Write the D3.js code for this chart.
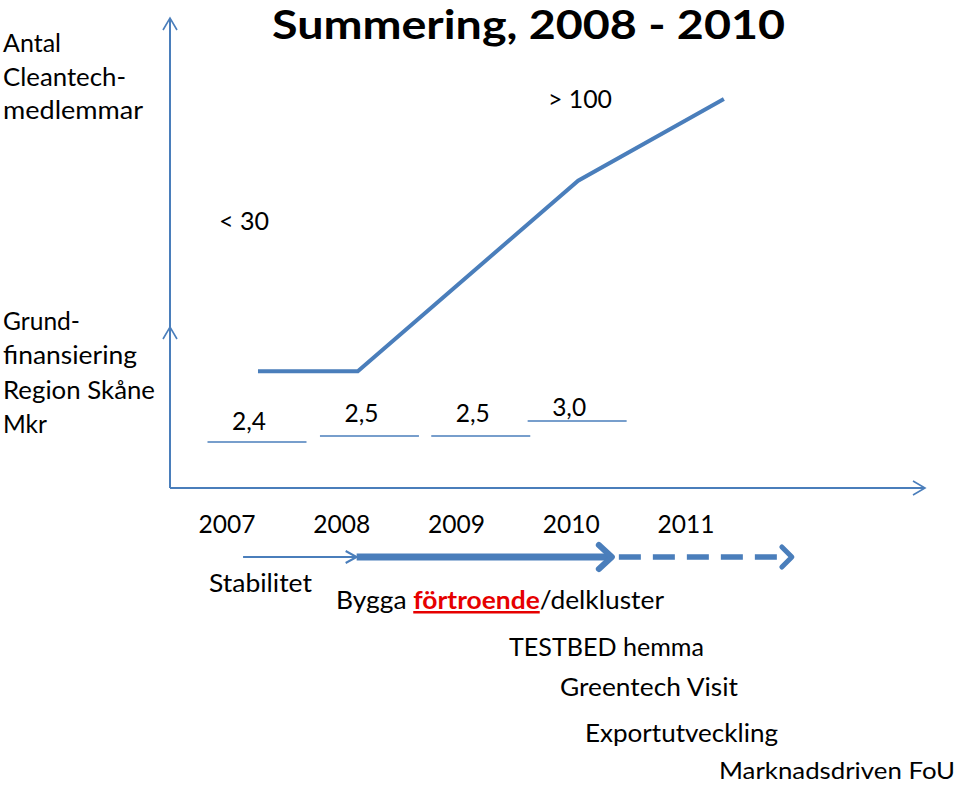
<!DOCTYPE html>
<html><head><meta charset="utf-8">
<script src="https://cdn.jsdelivr.net/npm/d3@7"></script>
<style>
html,body{margin:0;padding:0;background:#fff;}
svg{display:block;}
text{font-family:Lato,"Open Sans",sans-serif;fill:#000;}
</style></head>
<body>
<script>
// ---- data ----
const title = "Summering, 2008 - 2010";
const years = [2007, 2008, 2009, 2010, 2011];
const memberYears = [2007.27, 2008.14, 2010.06, 2011.33];
const memberValues = [30, 30, 79, 100];
const memberLabels = ["< 30", "> 100"];
const fundingYears = [2006.83, 2007.81, 2008.78, 2009.62];
const fundingValues = [2.4, 2.5, 2.5, 3.0];
const fundingLabels = ["2,4", "2,5", "2,5", "3,0"];
const phaseYears = [2007.14, 2008.13, 2010.38, 2011.94];
const activities = ["Stabilitet", "Bygga förtroende/delkluster", "TESTBED hemma", "Greentech Visit", "Exportutveckling", "Marknadsdriven FoU"];
const axisLabel1 = ["Antal", "Cleantech-", "medlemmar"];
const axisLabel2 = ["Grund-", "finansiering", "Region Skåne", "Mkr"];

// ---- layout ----
const W = 960, H = 786;
const blue = "#4a7ebb";
const svg = d3.select("body").append("svg").attr("width", W).attr("height", H);

const x = d3.scaleLinear().domain([2007, 2011]).range([227, 686]);
const y = d3.scaleLinear().domain([0, 100]).range([488, 99]);
const fy = d3.scaleLinear().domain([2.4, 2.5, 3.0]).range([442, 436, 421]);

const axX = 170, axBottom = 488, axTop = 18, axRight = 925;

function fitText(sel, len) {
  sel.attr("textLength", len).attr("lengthAdjust", "spacingAndGlyphs");
}

// axes
svg.append("line").attr("x1", axX).attr("x2", axX).attr("y1", axTop).attr("y2", axBottom)
  .attr("stroke", blue).attr("stroke-width", 2);
svg.append("line").attr("x1", axX).attr("x2", axRight).attr("y1", axBottom).attr("y2", axBottom)
  .attr("stroke", blue).attr("stroke-width", 2);
function chevUp(cx, cy) {
  svg.append("path").attr("d", `M${cx-7},${cy+12}L${cx},${cy}L${cx+7},${cy+12}`)
    .attr("fill", "none").attr("stroke", blue).attr("stroke-width", 1.6);
}
chevUp(axX, axTop);
chevUp(axX, 327);
svg.append("path").attr("d", `M${axRight-12},${axBottom-7}L${axRight},${axBottom}L${axRight-12},${axBottom+7}`)
  .attr("fill", "none").attr("stroke", blue).attr("stroke-width", 1.6);

// title
fitText(svg.append("text").attr("x", 272).attr("y", 39).attr("font-size", 40).attr("font-weight", "bold").text(title), 513);

// left labels
const l1w = [58, 123, 140];
axisLabel1.forEach((t, i) => fitText(svg.append("text").attr("x", 3).attr("y", 52 + i * 33.5).attr("font-size", 25).text(t), l1w[i]));
const l2w = [77, 134, 152, 44];
axisLabel2.forEach((t, i) => fitText(svg.append("text").attr("x", 3).attr("y", 330 + i * 34.3).attr("font-size", 25).text(t), l2w[i]));

// members line
svg.append("path")
  .datum(memberYears.map((d, i) => [d, memberValues[i]]))
  .attr("d", d3.line().x(d => x(d[0])).y(d => y(d[1])))
  .attr("fill", "none").attr("stroke", blue).attr("stroke-width", 4);

fitText(svg.append("text").attr("x", 219).attr("y", 230).attr("font-size", 25).text(memberLabels[0]), 50);
fitText(svg.append("text").attr("x", 548).attr("y", 108).attr("font-size", 25).text(memberLabels[1]), 64);

// funding
const segW = 99;
const labelOff = [-12, -14, -14, -5];
fundingYears.forEach((yr, i) => {
  const x0 = x(yr);
  svg.append("line").attr("x1", x0).attr("x2", x0 + segW)
    .attr("y1", fy(fundingValues[i])).attr("y2", fy(fundingValues[i]))
    .attr("stroke", blue).attr("stroke-width", 1.5);
  fitText(svg.append("text").attr("x", x0 + segW / 2 - 8).attr("y", fy(fundingValues[i]) + labelOff[i])
    .attr("text-anchor", "middle").attr("font-size", 25).text(fundingLabels[i]), 34);
});

// year labels
years.forEach(yr => fitText(svg.append("text").attr("x", x(yr)).attr("y", 533)
  .attr("text-anchor", "middle").attr("font-size", 25).text(yr), 57));

// timeline arrows
const ay = 557;
svg.append("line").attr("x1", x(phaseYears[0])).attr("x2", x(phaseYears[1])).attr("y1", ay).attr("y2", ay)
  .attr("stroke", blue).attr("stroke-width", 2);
svg.append("path").attr("d", `M${x(phaseYears[1])-11},${ay-6}L${x(phaseYears[1])},${ay}L${x(phaseYears[1])-11},${ay+6}`)
  .attr("fill", "none").attr("stroke", blue).attr("stroke-width", 2);
svg.append("line").attr("x1", x(phaseYears[1])).attr("x2", x(phaseYears[2]) - 4).attr("y1", ay).attr("y2", ay)
  .attr("stroke", blue).attr("stroke-width", 7);
svg.append("path").attr("d", `M${x(phaseYears[2])-16},${ay-12}L${x(phaseYears[2])-3},${ay}L${x(phaseYears[2])-16},${ay+12}`)
  .attr("fill", "none").attr("stroke", blue).attr("stroke-width", 6).attr("stroke-linecap", "round").attr("stroke-linejoin", "round");
svg.append("line").attr("x1", x(phaseYears[2]) + 4).attr("x2", x(phaseYears[3]) - 4).attr("y1", ay).attr("y2", ay)
  .attr("stroke", blue).attr("stroke-width", 5.5).attr("stroke-dasharray", "22,12");
svg.append("path").attr("d", `M${x(phaseYears[3])-12},${ay-10}L${x(phaseYears[3])-2},${ay}L${x(phaseYears[3])-12},${ay+10}`)
  .attr("fill", "none").attr("stroke", blue).attr("stroke-width", 5).attr("stroke-linecap", "round").attr("stroke-linejoin", "round");

// activities
const actPos = [[209, 592, 103], [336, 609, 328], [509, 656, 195], [560, 696, 178], [585, 742, 193], [719, 779, 236]];
activities.forEach((t, i) => {
  const [ax, by, w] = actPos[i];
  const tx = svg.append("text").attr("x", ax).attr("y", by).attr("font-size", i === 5 ? 24 : 25);
  if (t.includes("förtroende")) {
    const parts = t.split("förtroende");
    tx.append("tspan").text(parts[0]);
    tx.append("tspan").attr("fill", "#e60000").attr("font-weight", "bold")
      .attr("text-decoration", "underline").style("text-decoration", "underline").text("förtroende");
    tx.append("tspan").text(parts[1]);
  } else {
    tx.text(t);
  }
  fitText(tx, w);
});
</script>
</body></html>
